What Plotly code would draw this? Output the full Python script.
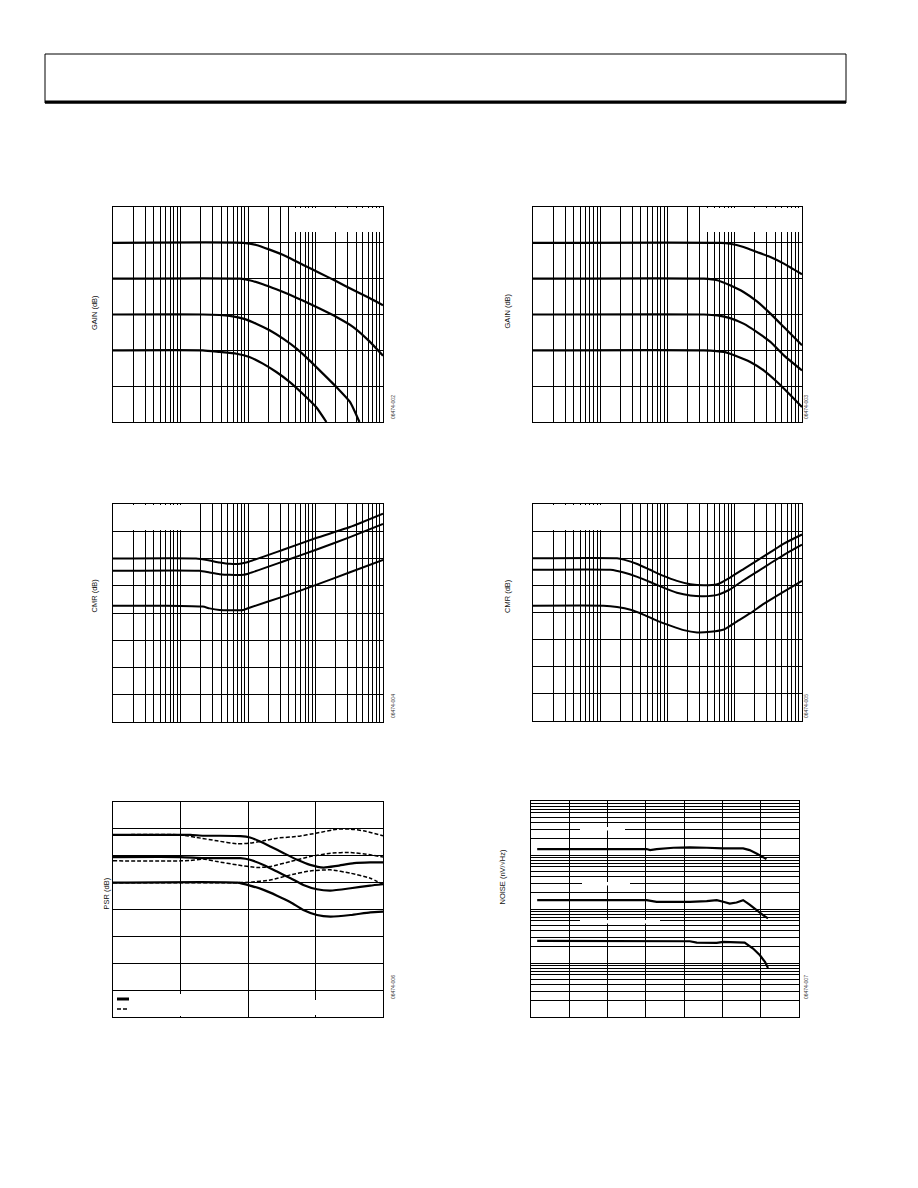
import plotly.graph_objects as go

PAGE_W, PAGE_H = 918, 1188
OFF = 8  # browser default body margin
W, H = PAGE_W - 2 * OFF, PAGE_H - 2 * OFF

# ---------------- data ----------------
# Chart 1: gain vs frequency (Hz), dB
g1_f_a = [100, 8500, 13200, 20900, 37200, 64600, 115000, 204000, 363000, 631000, 1000000]
g1_v_a = [60, 60, 58.8, 56.2, 52.4, 47.8, 43.2, 38.5, 33.7, 29.2, 25.2]
g1_f_b = [100, 7600, 10500, 16600, 26300, 41700, 64600, 115000, 204000, 363000, 631000, 1000000]
g1_v_b = [40, 40, 39.1, 36.9, 34.1, 31.0, 27.8, 23.3, 18.6, 13.0, 5.0, -3.0]
g1_f_c = [100, 2140, 5370, 8500, 13200, 20900, 33100, 52500, 81300, 129000, 204000, 324000, 447000]
g1_v_c = [20, 20, 19.2, 17.7, 14.9, 11.2, 6.5, 0.9, -5.6, -13.0, -20.5, -28.8, -40]
g1_f_d = [100, 2140, 3800, 6760, 10500, 16600, 26300, 41700, 64600, 102000, 145000]
g1_v_d = [0, 0, -0.9, -1.9, -3.7, -7.4, -12.1, -17.7, -24.2, -31.6, -40]

# Chart 2: gain vs frequency (Hz), dB
g2_f_a = [100, 61700, 85100, 135000, 214000, 339000, 537000, 1000000]
g2_v_a = [60, 60, 59.5, 57.7, 54.9, 52.1, 48.4, 42.4]
g2_f_b = [100, 34700, 55000, 85100, 135000, 214000, 339000, 537000, 1000000]
g2_v_b = [40, 40, 39.1, 36.3, 32.6, 27.3, 20.5, 13.0, 2.8]
g2_f_c = [100, 34700, 55000, 85100, 135000, 214000, 339000, 537000, 1000000]
g2_v_c = [20, 20, 19.5, 18.0, 14.9, 10.2, 4.7, -2.8, -11.2]
g2_f_d = [100, 34700, 69200, 107000, 170000, 269000, 427000, 676000, 1000000]
g2_v_d = [0, 0, -0.9, -3.3, -6.5, -11.2, -17.7, -25.1, -31.6]

# Chart 3: CMR vs frequency
c1_f_a = [10, 170, 269, 380, 537, 759, 1050, 3310, 10200, 32400, 100000]
c1_v_a = [120, 120, 118.5, 117.1, 116.1, 116.1, 117.8, 126.4, 135.0, 143.1, 152.9]
c1_f_b = [10, 191, 269, 380, 537, 851, 1050, 3310, 10200, 32400, 100000]
c1_v_b = [111, 111, 109.7, 108.5, 108, 108, 109.2, 117.8, 126.4, 135.7, 145.3]
c1_f_c = [10, 61.7, 214, 269, 380, 537, 851, 1050, 3310, 10200, 32400, 100000]
c1_v_c = [85.4, 85.4, 84.7, 83.4, 82.2, 82.0, 82.2, 83.9, 92.0, 100.6, 109.9, 119.0]

# Chart 4: CMR vs frequency
c2_f_a = [10, 178, 224, 355, 550, 871, 1380, 2190, 3470, 5500, 8510, 13500, 21400, 33900, 53700, 100000]
c2_v_a = [120, 120, 119, 115.8, 111.5, 107, 103.3, 100.8, 100, 100.8, 105.8, 112, 118.3, 124.5, 130.8, 137.5]
c2_f_b = [10, 141, 224, 355, 550, 871, 1380, 2190, 3470, 5500, 8510, 13500, 21400, 33900, 53700, 100000]
c2_v_b = [111.5, 111.5, 109.5, 106.3, 102.5, 98.3, 94.5, 92.5, 92, 93, 97, 103.8, 110, 116.3, 122.5, 130]
c2_f_c = [10, 112, 178, 282, 447, 692, 1100, 1740, 2750, 4370, 6920, 10700, 17000, 26900, 42700, 67600, 100000]
c2_v_c = [85, 85, 84, 82, 78.3, 74, 70.3, 67, 65.3, 65.8, 67.5, 73.3, 79.5, 86.3, 92.5, 98.3, 103.3]

# Chart 5: PSR vs frequency (solid / dashed)
p_f_s1 = [10, 100, 141, 219, 389, 776, 1070, 1510, 2140, 3390, 5370, 8320, 13200, 20900, 37200, 64600, 100000]
p_v_s1 = [135.6, 135.6, 135.6, 134.9, 134.9, 134.6, 133.6, 130.6, 126.9, 121.9, 117, 113.2, 111.2, 112.5, 114.5, 115, 115]
p_f_s2 = [10, 100, 219, 776, 1070, 1700, 2690, 4270, 6610, 10500, 16600, 33100, 64600, 100000]
p_v_s2 = [119, 119, 118.2, 118.2, 117, 113.2, 108.2, 103.3, 98.3, 95.1, 94.1, 95.8, 97.8, 98.8]
p_f_s3 = [10, 692, 1070, 1700, 2690, 4270, 6610, 10500, 16600, 33100, 64600, 100000]
p_v_s3 = [100, 100, 97.8, 94.6, 90.3, 85.4, 79.6, 75.9, 74.7, 75.9, 77.9, 78.4]
p_f_d1 = [10, 100, 174, 347, 692, 1070, 1700, 2690, 5370, 10500, 20900, 33100, 51300, 100000]
p_v_d1 = [135.6, 135.6, 133.6, 131.1, 128.9, 129.4, 131.1, 133.1, 134.4, 136.9, 139.8, 139.8, 138.6, 134.9]
p_f_d2 = [10, 100, 141, 219, 347, 692, 1350, 2140, 4270, 8320, 16600, 33100, 64600, 100000]
p_v_d2 = [116.2, 116.2, 116.5, 117.5, 115.7, 113.2, 111.2, 112, 115.7, 119.4, 121.9, 122.4, 120.7, 119]
p_f_d3 = [10, 692, 1070, 2140, 4270, 8320, 16600, 33100, 64600, 100000]
p_v_d3 = [100, 100, 100.3, 102, 105.8, 108.7, 109.5, 107, 103.3, 98.8]

# Chart 6: noise (nV/rtHz) vs frequency
n_f_1 = [0.145, 105, 129, 191, 525, 1410, 3890, 10500, 34700, 51300, 77600, 105000, 141000]
n_v_1 = [1288, 1288, 1233, 1288, 1361, 1384, 1361, 1324, 1324, 1233, 1069, 955, 839]
n_f_2 = [0.145, 105, 191, 525, 1410, 3890, 7080, 10500, 15500, 23400, 34700, 51300, 77600, 115000, 155000]
n_v_2 = [146, 146, 136, 134, 136, 140, 146, 136, 126, 132, 146, 121, 95, 77, 67]
n_f_3 = [0.145, 234, 631, 1410, 2140, 7080, 10500, 23400, 38000, 63100, 95500, 129000, 155000]
n_v_3 = [25.7, 25.7, 25.7, 25.3, 23.9, 23.6, 24.6, 24.6, 23.9, 18.5, 13.9, 10.5, 8.1]

titles = ["GAIN (dB)", "GAIN (dB)", "CMR (dB)", "CMR (dB)", "PSR (dB)", "NOISE (nV/√Hz)"]
codes = ["06474-002", "06474-003", "06474-004", "06474-005", "06474-006", "06474-007"]

# ---------------- layout helpers (page pixel -> paper) ----------------
def px_x(x):
    return (x - OFF) / W

def px_y(y):
    return 1 - (y - OFF) / H

# plot boxes in page pixels (x0, y0, x1, y1)
boxes = [
    (113, 207, 383, 422),
    (533, 207, 802, 422),
    (113, 504, 383, 722),
    (533, 504, 802, 721),
    (113, 802, 383, 1017),
    (531, 801, 799, 1017),
]

xranges = [(2, 6, "D1"), (2, 6, "D1"), (1, 5, "D1"), (1, 5, "D1"), (1, 5, 1), (-1, 6, 1)]
yspecs = [
    dict(type="linear", range=[-40, 80], dtick=20),
    dict(type="linear", range=[-40, 80], dtick=20),
    dict(type="linear", range=[0, 160], dtick=20),
    dict(type="linear", range=[0, 160], dtick=20),
    dict(type="linear", range=[0, 160], dtick=20),
    dict(type="log", range=[0, 4], dtick="D1"),
]

fig = go.Figure()

def add_line(idx, xs, ys, width=2.2, dash=None, spline=True):
    n = "" if idx == 0 else str(idx + 1)
    line = dict(color="black", width=width)
    if dash:
        line["dash"] = dash
    if spline:
        line["shape"] = "spline"
        line["smoothing"] = 0.5
    fig.add_trace(go.Scatter(x=xs, y=ys, mode="lines", line=line,
                             xaxis="x" + n, yaxis="y" + n,
                             showlegend=False, hoverinfo="skip"))

for xs, ys in [(g1_f_a, g1_v_a), (g1_f_b, g1_v_b), (g1_f_c, g1_v_c), (g1_f_d, g1_v_d)]:
    add_line(0, xs, ys)
for xs, ys in [(g2_f_a, g2_v_a), (g2_f_b, g2_v_b), (g2_f_c, g2_v_c), (g2_f_d, g2_v_d)]:
    add_line(1, xs, ys)
for xs, ys in [(c1_f_a, c1_v_a), (c1_f_b, c1_v_b), (c1_f_c, c1_v_c)]:
    add_line(2, xs, ys, width=2)
for xs, ys in [(c2_f_a, c2_v_a), (c2_f_b, c2_v_b), (c2_f_c, c2_v_c)]:
    add_line(3, xs, ys, width=2)
for xs, ys in [(p_f_d1, p_v_d1), (p_f_d2, p_v_d2), (p_f_d3, p_v_d3)]:
    add_line(4, xs, ys, width=1.5, dash="4px,2px")
for xs, ys in [(p_f_s1, p_v_s1), (p_f_s2, p_v_s2), (p_f_s3, p_v_s3)]:
    add_line(4, xs, ys, width=2.2)
for xs, ys in [(n_f_1, n_v_1), (n_f_2, n_v_2), (n_f_3, n_v_3)]:
    add_line(5, xs, ys, width=2.2, spline=False)

axis_common = dict(showticklabels=False, ticks="", showline=True, mirror=True,
                   linecolor="black", linewidth=1, showgrid=True,
                   gridcolor="black", gridwidth=1, zeroline=False, fixedrange=True)

layout = dict(width=W, height=H, autosize=False,
              margin=dict(l=0, r=0, t=0, b=0),
              paper_bgcolor="white", plot_bgcolor="white", showlegend=False)

for i, (bx, (x0, x1, dt), ys) in enumerate(zip(boxes, xranges, yspecs)):
    n = "" if i == 0 else str(i + 1)
    xa = dict(axis_common, type="log", range=[x0, x1], dtick=dt,
              domain=[px_x(bx[0]), px_x(bx[2])], anchor="y" + n)
    ya = dict(axis_common, domain=[px_y(bx[3]), px_y(bx[1])], anchor="x" + n, **ys)
    layout["xaxis" + n] = xa
    layout["yaxis" + n] = ya

fig.update_layout(**layout)

shapes = []
# header box
shapes.append(dict(type="rect", xref="paper", yref="paper",
                   x0=px_x(45), x1=px_x(846), y0=px_y(103), y1=px_y(54),
                   line=dict(color="black", width=1), layer="above"))
shapes.append(dict(type="line", xref="paper", yref="paper",
                   x0=px_x(45), x1=px_x(846), y0=px_y(102), y1=px_y(102),
                   line=dict(color="black", width=3), layer="above"))

# white areas (erased label regions) above the grid but below the traces,
# given as page-pixel rectangles per chart, converted to that chart's axis values
white_boxes = {
    0: [(290, 208, 382, 232)],
    1: [(707, 208, 801, 232)],
    2: [(114, 505, 200, 530)],
    3: [(534, 505, 619, 530)],
    4: [(114, 994, 246, 1016), (303, 1000, 327, 1015)],
    5: [(580, 827, 625, 830.5), (582, 882, 630, 885.5), (580, 920, 660, 923.5)],
}

def to_axis_x(ci, px):
    bx0, _, bx1, _ = boxes[ci]
    r0, r1, _ = xranges[ci]
    return 10 ** (r0 + (px - bx0) / (bx1 - bx0) * (r1 - r0))

def to_axis_y(ci, py):
    _, by0, _, by1 = boxes[ci]
    r0, r1 = yspecs[ci]["range"]
    v = r0 + (by1 - py) / (by1 - by0) * (r1 - r0)
    return 10 ** v if yspecs[ci]["type"] == "log" else v

for ci, rects in white_boxes.items():
    n = "" if ci == 0 else str(ci + 1)
    for (x0, y0, x1, y1) in rects:
        shapes.append(dict(type="rect", xref="x" + n, yref="y" + n,
                           x0=to_axis_x(ci, x0), x1=to_axis_x(ci, x1),
                           y0=to_axis_y(ci, y1), y1=to_axis_y(ci, y0),
                           fillcolor="white", line=dict(width=0), layer="between"))

# PSR legend symbols
shapes.append(dict(type="line", xref="paper", yref="paper",
                   x0=px_x(117), x1=px_x(129), y0=px_y(999), y1=px_y(999),
                   line=dict(color="black", width=3), layer="above"))
shapes.append(dict(type="line", xref="paper", yref="paper",
                   x0=px_x(117), x1=px_x(129), y0=px_y(1009), y1=px_y(1009),
                   line=dict(color="black", width=1.5, dash="4px,2px"), layer="above"))

annotations = []
title_pos = [(88, 293), (507, 292), (87, 596), (507, 596), (99, 912), (502, 907)]
for t, (x, y) in zip(titles, title_pos):
    annotations.append(dict(text=t, xref="paper", yref="paper", x=px_x(x), y=px_y(y),
                            showarrow=False, textangle=-90,
                            font=dict(family="Liberation Sans, Arial", size=7.5, color="#111")))
code_pos = [(393, 407), (811, 407), (393, 706), (811, 706), (393, 1001), (811, 1001)]
for t, (x, y) in zip(codes, code_pos):
    annotations.append(dict(text=t, xref="paper", yref="paper", x=px_x(x), y=px_y(y),
                            showarrow=False, textangle=-90,
                            font=dict(family="Liberation Sans, Arial", size=5, color="#333")))

fig.update_layout(shapes=shapes, annotations=annotations)
fig.write_html("out.html")
